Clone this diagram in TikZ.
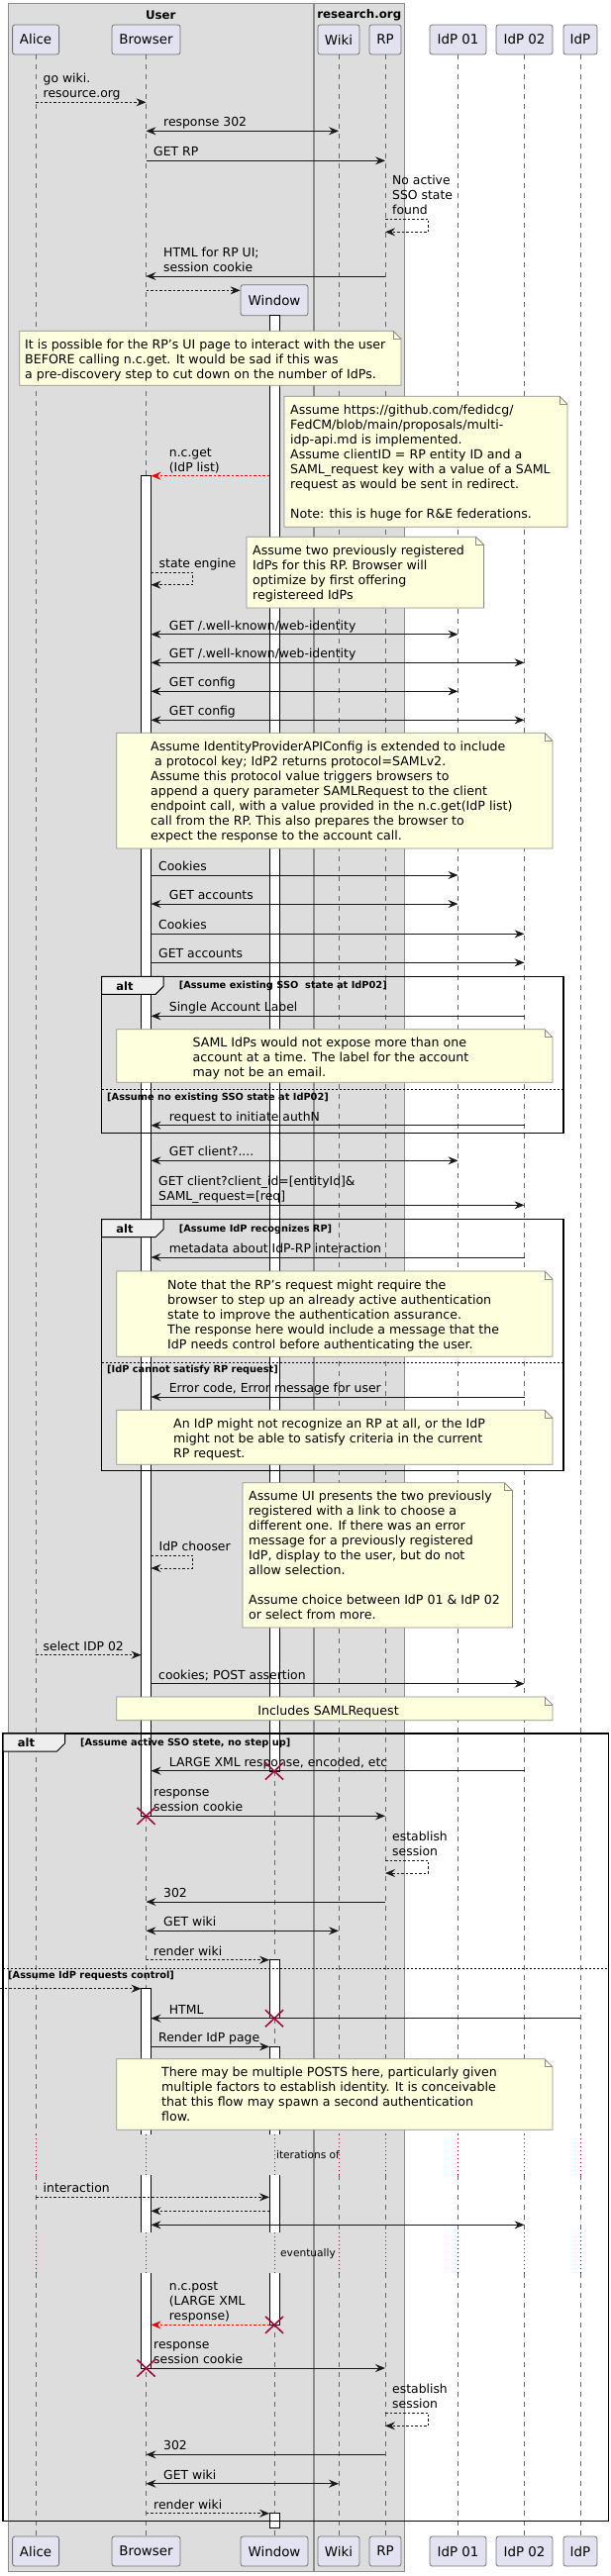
\documentclass[tikz,border=0pt]{standalone}
\usepackage{fontspec}
\setmainfont{DejaVu Sans}
\usetikzlibrary{arrows.meta}
\definecolor{partfill}{HTML}{E2E2F0}
\definecolor{grpfill}{HTML}{DDDDDD}
\definecolor{notefill}{HTML}{FEFFDD}
\definecolor{xred}{HTML}{A80036}
\definecolor{tabfill}{HTML}{EEEEEE}
\newcommand\fMsg{\fontsize{12.4}{15}\selectfont}
\newcommand\fNote{\fontsize{12.6}{15}\selectfont}
\newcommand\fPart{\fontsize{13.4}{16}\selectfont}
\newcommand\fGrp{\bfseries\fontsize{11.8}{14}\selectfont}
\newcommand\fGuard{\bfseries\fontsize{9.8}{12}\selectfont}
\newcommand\fAlt{\bfseries\fontsize{11.5}{14}\selectfont}
\newcommand\fDelay{\fontsize{10.6}{13}\selectfont}
\tikzset{
  grp/.style={draw=black!45, fill=grpfill, line width=0.8pt},
  grptitle/.style={font=\fGrp, inner sep=0pt},
  part/.style={draw=black!55, fill=partfill, rounded corners=2.5pt, minimum height=30pt, inner sep=0pt, font=\fPart, line width=0.8pt},
  life/.style={draw=black!60, dash pattern=on 5pt off 5pt, line width=0.7pt},
  delayline/.style={draw=xred, dash pattern=on 1pt off 3pt, line width=0.8pt},
  bar/.style={draw=black, fill=white, line width=0.8pt},
  barl/.style={draw=black, line width=0.8pt},
  msg/.style={draw=black!90, line width=0.8pt, ->},
  bimsg/.style={msg, <->},
  dmsg/.style={msg, dash pattern=on 2.5pt off 2pt},
  rmsg/.style={dmsg, draw=red},
  lbl/.style={anchor=south west, inner sep=0pt, align=left, font=\fMsg},
  note/.style={draw=black!45, fill=notefill, line width=0.8pt},
  notetext/.style={anchor=north west, inner sep=0pt, align=left, font=\fNote},
  frame/.style={draw=black, line width=1.5pt},
  tab/.style={draw=black, fill=tabfill, line width=1pt},
  guard/.style={font=\fGuard, anchor=west, inner sep=0pt},
  altlbl/.style={font=\fAlt, inner sep=0pt},
  divider/.style={draw=black, dash pattern=on 2pt off 2pt, line width=0.8pt},
  xmark/.style={draw=xred, line width=1.5pt},
  delaytext/.style={font=\fDelay, inner sep=0pt}
}
\newcommand\notebox[4]{%
  \draw[note] (#1,#2) -- ({#3-8},#2) -- (#3,{#2+8}) -- (#3,#4) -- (#1,#4) -- cycle;
  \draw[note, fill=none] ({#3-8},#2) -- ({#3-8},{#2+8}) -- (#3,{#2+8});}
\newcommand\alttab[3]{%
  \draw[tab] (#1,#2) -- ({#1+62.3},#2) -- ({#1+62.3},{#2+10}) -- ({#1+54.3},{#2+18}) -- (#1,{#2+18}) -- cycle;
  \node[altlbl] (#3) at ({#1+23.3},{#2+9.5}) {alt};}
\newcommand\xat[2]{\draw[xmark] ({#1-9},{#2-8.5}) -- ({#1+9},{#2+8.5}) ({#1-9},{#2+8.5}) -- ({#1+9},{#2-8.5});}
\begin{document}
\begin{tikzpicture}[x=1pt,y=-1pt,>={Stealth[length=10pt,width=8pt,inset=3.5pt]}]
\fill[white] (0,0) rectangle (616,2602);
\useasboundingbox (0,0) rectangle (616,2602);
% groups
\draw[grp] (8.7,3) rectangle (316,2597);
\draw[grp] (317.4,3) rectangle (408.2,2597);
\node[grptitle] (gUser) at (162.3,15) {User};
\node[grptitle] (gRes) at (362.8,15) {research.org};
% participants
\node[part, minimum width=47pt] (pAlice) at (36.1,40) {Alice};
\node[part, minimum width=69pt] (pBrowser) at (147.5,40) {Browser};
\node[part, minimum width=68pt, minimum height=31pt] (pWindow) at (277,303.2) {Window};
\node[part, minimum width=42pt] (pWiki) at (342,40) {Wiki};
\node[part, minimum width=32pt] (pRP) at (389,40) {RP};
\node[part, minimum width=57pt] (pIdPa) at (462.5,40) {IdP 01};
\node[part, minimum width=57pt] (pIdPb) at (529.5,40) {IdP 02};
\node[part, minimum width=34pt] (pIdPc) at (586,40) {IdP};
\node[part, minimum width=47pt] (qAlice) at (36.1,2577) {Alice};
\node[part, minimum width=69pt] (qBrowser) at (147.5,2577) {Browser};
\node[part, minimum width=68pt] (qWindow) at (277,2577) {Window};
\node[part, minimum width=42pt] (qWiki) at (342,2577) {Wiki};
\node[part, minimum width=32pt] (qRP) at (389,2577) {RP};
\node[part, minimum width=57pt] (qIdPa) at (462.5,2577) {IdP 01};
\node[part, minimum width=57pt] (qIdPb) at (529.5,2577) {IdP 02};
\node[part, minimum width=34pt] (qIdPc) at (586,2577) {IdP};
% lifelines
\foreach \p in {Alice,Browser,Window,Wiki,RP,IdPa,IdPb,IdPc}{
  \draw[life] (p\p.south) -- (p\p |- 0,2156.3);
  \draw[delayline] (p\p |- 0,2156.3) -- (p\p |- 0,2197.3);
  \draw[life] (p\p |- 0,2197.3) -- (p\p |- 0,2255);
  \draw[delayline] (p\p |- 0,2255) -- (p\p |- 0,2296);
  \draw[life] (p\p |- 0,2296) -- (q\p.north);
}
\coordinate (BrL) at ([xshift=-5pt]pBrowser.center);
\coordinate (BrR) at ([xshift=5pt]pBrowser.center);
\coordinate (WiL) at ([xshift=-5pt]pWindow.center);
\coordinate (Lft) at (0,0);
% activation bars
\draw[bar] (272,318.7) rectangle (282,1789);
\draw[bar] (272,1979.7) rectangle (282,2038.7);
\fill[white] (272,2067.3) rectangle (282,2156.3);
\draw[barl] (272,2156.3) -- (272,2067.3) -- (282,2067.3) -- (282,2156.3);
\fill[white] (272,2197.3) rectangle (282,2255);
\draw[barl] (272,2197.3) -- (272,2255) (282,2197.3) -- (282,2255);
\fill[white] (272,2296) rectangle (282,2348.3);
\draw[barl] (272,2296) -- (272,2348.3) -- (282,2348.3) -- (282,2296);
\draw[bar] (272,2538.7) rectangle (282,2553.7);
\draw[bar] (142.5,480.7) rectangle (152.5,1834.3);
\fill[white] (142.5,2008.7) rectangle (152.5,2156.3);
\draw[barl] (142.5,2156.3) -- (142.5,2008.7) -- (152.5,2008.7) -- (152.5,2156.3);
\fill[white] (142.5,2197.3) rectangle (152.5,2255);
\draw[barl] (142.5,2197.3) -- (142.5,2255) (152.5,2197.3) -- (152.5,2255);
\fill[white] (142.5,2296) rectangle (152.5,2392);
\draw[barl] (142.5,2296) -- (142.5,2392) -- (152.5,2392) -- (152.5,2296);
% alt frames
\draw[frame] (102.7,986.3) rectangle (569,1144.3);
\alttab{102.7}{986.3}{alt1}
\node[guard] (g1a) at (180.6,996.3) {[Assume existing SSO~ state at IdP02]};
\draw[divider] (102.7,1100.7) -- (569,1100.7);
\node[guard] (g1b) at (108,1109) {[Assume no existing SSO state at IdP02]};
\draw[frame] (102.7,1231.7) rectangle (569,1485.3);
\alttab{102.7}{1231.7}{alt2}
\node[guard] (g2a) at (180.6,1241.7) {[Assume IdP recognizes RP]};
\draw[divider] (102.7,1376) -- (569,1376);
\node[guard] (g2b) at (108,1383.7) {[IdP cannot satisfy RP request]};
\draw[frame] (3.2,1751) rectangle (614.6,2546.3);
\alttab{3.2}{1751}{alt3}
\node[guard] (g3a) at (81,1761) {[Assume active SSO stete, no step up]};
\draw[divider] (3.2,1988.7) -- (614.6,1988.7);
\node[guard] (g3b) at (8,1995.7) {[Assume IdP requests control]};
% notes
\notebox{19.7}{334.3}{405}{389.3}
\node[notetext] (n1) at (25,341.6) {\strut It is possible for the RP's UI page to interact with the user\\BEFORE calling n.c.get. It would be sad if this was\\a pre-discovery step to cut down on the number of IdPs.};
\notebox{287}{400.3}{573}{532.3}
\node[notetext] (n2) at (293,407.6) {\strut Assume https://github.com/fedidcg/\\FedCM/blob/main/proposals/multi-\\idp-api.md is implemented.\\Assume clientID = RP entity ID and a\\SAML\_request key with a value of a SAML\\request as would be sent in redirect.\\[15pt]Note: this is huge for R\&E federations.};
\notebox{249}{542.3}{488.6}{614}
\node[notetext] (n3) at (255,549.6) {\strut Assume two previously registered\\IdPs for this RP. Browser will\\optimize by first offering\\registereed IdPs};
\notebox{117.7}{740.3}{558}{857}
\node[notetext] (n4) at (152,747.6) {\strut Assume IdentityProviderAPIConfig is extended to include\\\ a protocol key; IdP2 returns protocol=SAMLv2.\\Assume this protocol value triggers browsers to\\append a query parameter SAMLRequest to the client\\endpoint call, with a value provided in the n.c.get(IdP list)\\call from the RP. This also prepares the browser to\\expect the response to the account call.};
\notebox{117.7}{1039.7}{558}{1093.3}
\node[notetext] (n5) at (194.5,1047) {\strut SAML IdPs would not expose more than one\\account at a time. The label for the account\\may not be an email.};
\notebox{117.7}{1284}{558}{1370.3}
\node[notetext] (n6) at (169,1291.3) {\strut Note that the RP's request might require the\\browser to step up an already active authentication\\state to improve the authentication assurance.\\The response here would include a message that the\\IdP needs control before authenticating the user.};
\notebox{117.7}{1424.3}{558}{1479.3}
\node[notetext] (n7) at (175,1431.6) {\strut An IdP might not recognize an RP at all, or the IdP\\might not be able to satisfy criteria in the current\\RP request.};
\notebox{245}{1497.7}{517.5}{1644}
\node[notetext] (n8) at (251,1505) {\strut Assume UI presents the two previously\\registered with a link to choose a\\different one. If there was an error\\message for a previously registered\\IdP, display to the user, but do not\\allow selection.\\[15pt]Assume choice between IdP 01 \& IdP 02\\or select from more.};
\notebox{117.7}{1714}{558}{1737.7}
\node[notetext, anchor=north] (n9) at (331.5,1721.3) {\strut Includes SAMLRequest};
\notebox{117.7}{2079.7}{558}{2151.3}
\node[notetext] (n10) at (163,2087) {\strut There may be multiple POSTS here, particularly given\\multiple factors to establish identity. It is conceivable\\that this flow may spawn a second authentication\\flow.};
% messages
\draw[dmsg] (pAlice |- 0,103.3) -- (pBrowser |- 0,103.3);
\node[lbl] (m1) at (43.5,103.3) {go wiki.\\resource.org\strut};
\draw[bimsg] (pBrowser |- 0,132.3) -- (pWiki |- 0,132.3);
\node[lbl] (m2) at (165,132.3) {response 302\strut};
\draw[msg] (pBrowser |- 0,162.3) -- (pRP |- 0,162.3);
\node[lbl] (m3) at (155,162.3) {GET RP\strut};
\node[lbl] (m4) at (396,221) {No active\\SSO state\\found\strut};
\draw[dmsg] (pRP |- 0,221) -- (432.5,221) -- (432.5,234.3) -- (pRP |- 0,234.3);
\draw[msg] (pRP |- 0,279) -- (pBrowser |- 0,279);
\node[lbl] (m5) at (165,279) {HTML for RP UI;\\session cookie\strut};
\draw[dmsg] (pBrowser |- 0,293.3) -- (pWindow.west |- 0,293.3);
\draw[rmsg] (WiL |- 0,480.7) -- (BrR |- 0,480.7);
\node[lbl] (m6) at (170.7,480.7) {n.c.get\\(IdP list)\strut};
\node[lbl] (m7) at (160.5,578.3) {state engine\strut};
\draw[dmsg] (BrR |- 0,578.3) -- (194.7,578.3) -- (194.7,590.7) -- (BrR |- 0,590.7);
\draw[bimsg] (BrR |- 0,640.7) -- (pIdPa |- 0,640.7);
\node[lbl] (m8) at (170.7,640.7) {GET /.well-known/web-identity\strut};
\draw[bimsg] (BrR |- 0,669.3) -- (pIdPb |- 0,669.3);
\node[lbl] (m9) at (170.7,669.3) {GET /.well-known/web-identity\strut};
\draw[bimsg] (BrR |- 0,698.3) -- (pIdPa |- 0,698.3);
\node[lbl] (m10) at (170.7,698.3) {GET config\strut};
\draw[bimsg] (BrR |- 0,727.3) -- (pIdPb |- 0,727.3);
\node[lbl] (m11) at (170.7,727.3) {GET config\strut};
\draw[msg] (BrR |- 0,884) -- (pIdPa |- 0,884);
\node[lbl] (m12) at (160,884) {Cookies\strut};
\draw[bimsg] (BrR |- 0,913) -- (pIdPa |- 0,913);
\node[lbl] (m13) at (170.7,913) {GET accounts\strut};
\draw[msg] (BrR |- 0,943.3) -- (pIdPb |- 0,943.3);
\node[lbl] (m14) at (160,943.3) {Cookies\strut};
\draw[msg] (BrR |- 0,972.3) -- (pIdPb |- 0,972.3);
\node[lbl] (m15) at (160,972.3) {GET accounts\strut};
\draw[msg] (pIdPb |- 0,1026.3) -- (BrR |- 0,1026.3);
\node[lbl] (m16) at (170.7,1026.3) {Single Account Label\strut};
\draw[msg] (pIdPb |- 0,1136.7) -- (BrR |- 0,1136.7);
\node[lbl] (m17) at (170.7,1136.7) {request to initiate authN\strut};
\draw[bimsg] (BrR |- 0,1172.3) -- (pIdPa |- 0,1172.3);
\node[lbl] (m18) at (170.7,1172.3) {GET client?....\strut};
\draw[msg] (BrR |- 0,1217.3) -- (pIdPb |- 0,1217.3);
\node[lbl] (m19) at (160,1217.3) {GET client?client\_id=[entityId]\&\\SAML\_request=[req]\strut};
\draw[msg] (pIdPb |- 0,1270) -- (BrR |- 0,1270);
\node[lbl] (m20) at (170.7,1270) {metadata about IdP-RP interaction\strut};
\draw[msg] (pIdPb |- 0,1411) -- (BrR |- 0,1411);
\node[lbl] (m21) at (170.7,1411) {Error code, Error message for user\strut};
\node[lbl] (m22) at (160.5,1571.3) {IdP chooser\strut};
\draw[dmsg] (BrR |- 0,1571.3) -- (194.7,1571.3) -- (194.7,1584) -- (BrR |- 0,1584);
\draw[dmsg] (pAlice |- 0,1671.7) -- (BrL |- 0,1671.7);
\node[lbl] (m23) at (43.5,1671.7) {select IDP 02\strut};
\draw[msg] (BrR |- 0,1700.7) -- (pIdPb |- 0,1700.7);
\node[lbl] (m24) at (160,1700.7) {cookies; POST assertion\strut};
\draw[msg] (pIdPb |- 0,1788.7) -- (BrR |- 0,1788.7);
\node[lbl] (m25) at (170.7,1788.7) {LARGE XML response, encoded, etc\strut};
\draw[msg] (BrR |- 0,1834.3) -- (pRP |- 0,1834.3);
\node[lbl] (m26) at (155,1834.3) {response\\session cookie\strut};
\node[lbl] (m27) at (396,1879.3) {establish\\session\strut};
\draw[dmsg] (pRP |- 0,1879.3) -- (432.5,1879.3) -- (432.5,1892) -- (pRP |- 0,1892);
\draw[msg] (pRP |- 0,1921) -- (pBrowser |- 0,1921);
\node[lbl] (m28) at (165,1921) {302\strut};
\draw[bimsg] (pBrowser |- 0,1950.3) -- (pWiki |- 0,1950.3);
\node[lbl] (m29) at (165,1950.3) {GET wiki\strut};
\draw[dmsg] (pBrowser |- 0,1979.7) -- (WiL |- 0,1979.7);
\node[lbl] (m30) at (155,1979.7) {render wiki\strut};
\draw[dmsg] (Lft |- 0,2008.7) -- (BrL |- 0,2008.7);
\draw[msg] (pIdPc |- 0,2038.7) -- (BrR |- 0,2038.7);
\node[lbl] (m31) at (170.7,2038.7) {HTML\strut};
\draw[msg] (BrR |- 0,2067.3) -- (WiL |- 0,2067.3);
\node[lbl] (m32) at (160,2067.3) {Render IdP page\strut};
\draw[dmsg] (pAlice |- 0,2219.3) -- (WiL |- 0,2219.3);
\node[lbl] (m33) at (43.5,2219.3) {interaction\strut};
\draw[dmsg] (WiL |- 0,2233.3) -- (BrR |- 0,2233.3);
\draw[bimsg] (BrR |- 0,2247.3) -- (pIdPb |- 0,2247.3);
\draw[rmsg] (WiL |- 0,2348.3) -- (BrR |- 0,2348.3);
\node[lbl] (m34) at (170.7,2348.3) {n.c.post\\(LARGE XML\\response)\strut};
\draw[msg] (BrR |- 0,2392) -- (pRP |- 0,2392);
\node[lbl] (m35) at (155,2392) {response\\session cookie\strut};
\node[lbl] (m36) at (396,2437) {establish\\session\strut};
\draw[dmsg] (pRP |- 0,2437) -- (432.5,2437) -- (432.5,2450.3) -- (pRP |- 0,2450.3);
\draw[msg] (pRP |- 0,2479.3) -- (pBrowser |- 0,2479.3);
\node[lbl] (m37) at (165,2479.3) {302\strut};
\draw[bimsg] (pBrowser |- 0,2508.7) -- (pWiki |- 0,2508.7);
\node[lbl] (m38) at (165,2508.7) {GET wiki\strut};
\draw[dmsg] (pBrowser |- 0,2538.7) -- (WiL |- 0,2538.7);
\node[lbl] (m39) at (155,2538.7) {render wiki\strut};
% delays
\node[delaytext] (d1) at (311,2176.7) {iterations of};
\node[delaytext] (d2) at (311,2276.7) {eventually};
% destroy marks
\xat{277}{1789}
\xat{147.5}{1834.3}
\xat{277}{2038.7}
\xat{277}{2348.3}
\xat{147.5}{2392}
\end{tikzpicture}
\end{document}
